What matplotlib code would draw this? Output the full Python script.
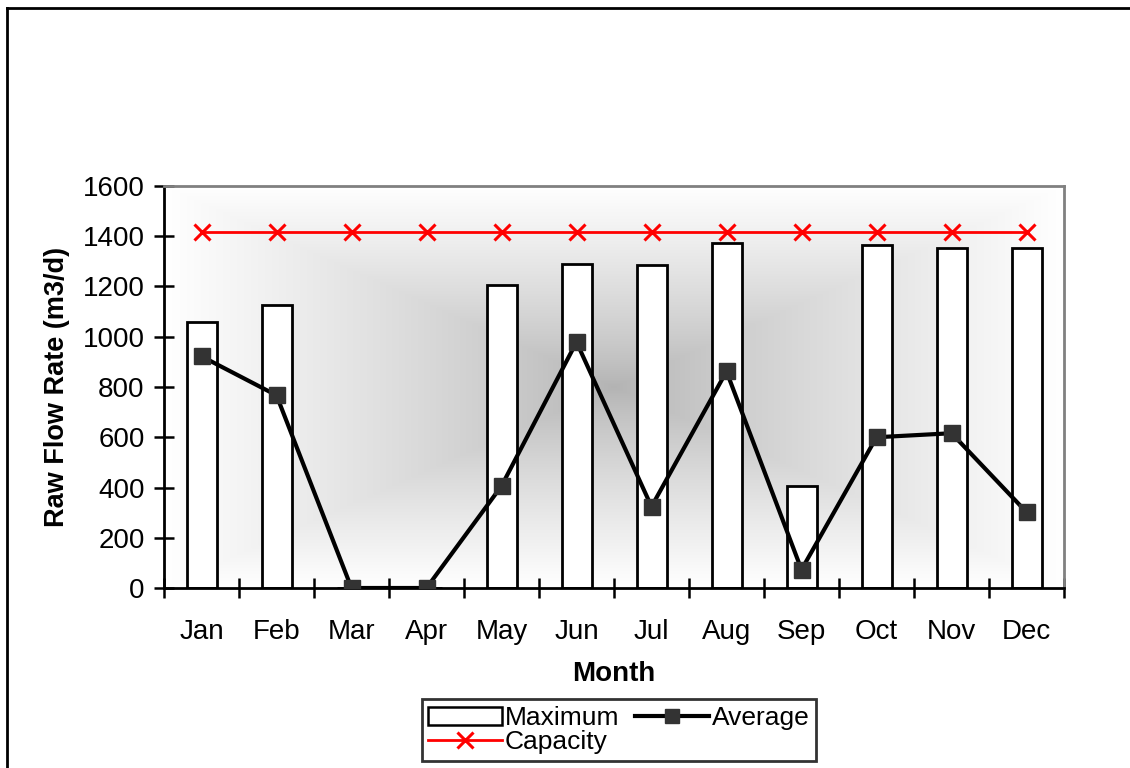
import numpy as np
import matplotlib
matplotlib.use("Agg")
import matplotlib.pyplot as plt
from matplotlib.lines import Line2D
from matplotlib.patches import Patch

months = ["Jan", "Feb", "Mar", "Apr", "May", "Jun", "Jul", "Aug", "Sep", "Oct", "Nov", "Dec"]
maximum = [1058, 1126, 0, 0, 1206, 1290, 1284, 1374, 405, 1365, 1353, 1353]
average = [922, 767, 0, 0, 406, 979, 324, 862, 73, 600, 616, 302]
capacity = [1416] * 12
yticks = [0, 200, 400, 600, 800, 1000, 1200, 1400, 1600]

plt.rcParams['font.family'] = ['Liberation Sans', 'DejaVu Sans']

fig = plt.figure(figsize=(11.3, 7.68), dpi=100)
ax = fig.add_axes([164/1130, 1-588/768, 900/1130, 402/768])

# gradient background (from center, rectangular)
n = 400
xx, yy = np.meshgrid(np.linspace(-1, 1, n), np.linspace(-1, 1, n))
d = np.maximum(np.abs(xx), np.abs(yy))
g = 0.70 + 0.30 * d ** 0.8
img = np.dstack([g, g, g])
ax.imshow(img, extent=[0, 1, 0, 1], transform=ax.transAxes, aspect='auto', zorder=0, interpolation='bilinear')

x = np.arange(len(months))
ax.bar(x, maximum, width=0.4, color='white', edgecolor='black', linewidth=2.0, zorder=2)
ax.plot(x, average, color='black', linewidth=3.0, marker='s', markersize=12,
        markerfacecolor='#333333', markeredgecolor='#333333', zorder=3)
ax.plot(x, capacity, color='#ff0000', linewidth=2.0, marker='x', markersize=11,
        markeredgewidth=2.2, zorder=3)

ax.set_xlim(-0.5, 11.5)
ax.set_ylim(0, 1600)
ax.set_yticks(yticks)
ax.set_xticks(x)
ax.set_xticklabels(months)
ax.set_xticks(np.arange(-0.5, 12, 1), minor=True)
ax.tick_params(axis='x', which='major', length=0, pad=22, labelsize=20)
ax.tick_params(axis='x', which='minor', direction='inout', length=14, width=1.8)
ax.tick_params(axis='y', direction='inout', length=14, width=1.8, pad=7, labelsize=20)

for s in ['left', 'bottom']:
    ax.spines[s].set_color('black')
    ax.spines[s].set_linewidth(2.0)
for s in ['top', 'right']:
    ax.spines[s].set_color('#808080')
    ax.spines[s].set_linewidth(2.0)

ax.set_ylabel('Raw Flow Rate (m3/d)', fontsize=19.5, fontweight='bold', labelpad=9)
ax.set_xlabel('Month', fontsize=20, fontweight='bold', labelpad=12)

handles = [Patch(facecolor='white', edgecolor='black', linewidth=1.8),
           Line2D([], [], color='#ff0000', linewidth=2.0, marker='x', markersize=11, markeredgewidth=2.2),
           Line2D([], [], color='black', linewidth=3.0, marker='s', markersize=10,
                  markerfacecolor='#333333', markeredgecolor='#333333')]
labels = ['Maximum', 'Capacity', 'Average']
leg = fig.legend(handles, labels, ncol=2, loc='center', bbox_to_anchor=(619/1130, 1-730/768),
                 fontsize=19, frameon=True, fancybox=False, shadow=False,
                 handlelength=2.8, handletextpad=0.1, columnspacing=0.6, labelspacing=0.0,
                 borderpad=0.25, borderaxespad=0)
leg.get_frame().set_edgecolor('black')
leg.get_frame().set_linewidth(2.0)

# figure border
fig.add_artist(Line2D([6.5/1130, 6.5/1130], [0, 1-7.5/768], transform=fig.transFigure, color='black', linewidth=2.0))
fig.add_artist(Line2D([6.5/1130, 1], [1-7.5/768, 1-7.5/768], transform=fig.transFigure, color='black', linewidth=2.0))

fig.savefig('out.png', dpi=100)
